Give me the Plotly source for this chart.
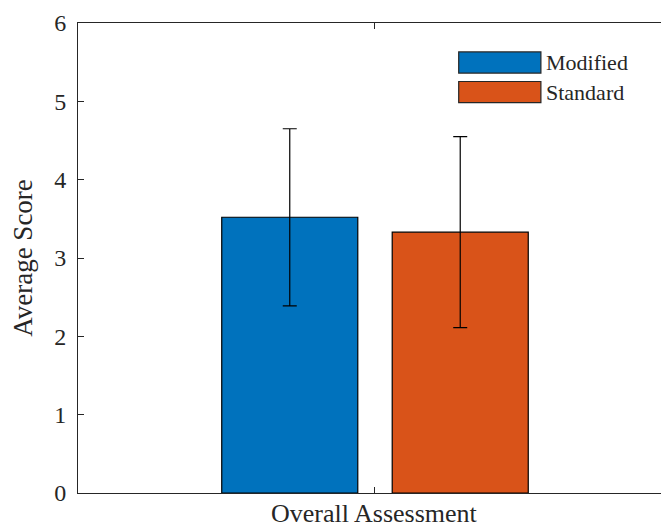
import plotly.graph_objects as go

# Data
category = "Overall Assessment"
series_names = ["Modified", "Standard"]
series_means = [3.52, 3.33]
series_sd = [1.13, 1.22]
series_colors = ["#0072BD", "#D95319"]
y_ticks = [0, 1, 2, 3, 4, 5, 6]

SERIF = "Liberation Serif, DejaVu Serif, serif"
INK = "#262626"

fig = go.Figure()
for name, mean, sd, color in zip(series_names, series_means, series_sd, series_colors):
    fig.add_trace(go.Bar(
        x=[1], y=[mean], name=name,
        marker=dict(color=color, line=dict(color="black", width=1.2)),
        error_y=dict(type="data", array=[sd], visible=True,
                     color="black", thickness=1.2, width=7),
        showlegend=False,
    ))

# Legend drawn as wide swatches with labels (top-right, no box)
legend_x0, legend_x1 = 0.653, 0.794
legend_rows = [0.916, 0.853]
sw_h = 0.045
for name, color, yc in zip(series_names, series_colors, legend_rows):
    fig.add_shape(type="rect", xref="paper", yref="paper",
                  x0=legend_x0, x1=legend_x1, y0=yc - sw_h / 2, y1=yc + sw_h / 2,
                  fillcolor=color, line=dict(color=INK, width=1.2))
    fig.add_annotation(xref="paper", yref="paper", x=legend_x1 + 0.006, y=yc,
                       text=name, showarrow=False, xanchor="left", yanchor="middle",
                       font=dict(family=SERIF, size=22, color=INK))

# Category label under the axis
fig.add_annotation(xref="x", yref="paper", x=1, y=0, yshift=-20,
                   text=category, showarrow=False, xanchor="center", yanchor="middle",
                   font=dict(family=SERIF, size=26, color=INK))

fig.update_layout(
    width=661, height=529,
    margin=dict(l=78, r=0, t=23, b=36),
    paper_bgcolor="white", plot_bgcolor="white",
    barmode="group", bargap=0.426, bargroupgap=0.202,
    font=dict(family=SERIF, color=INK),
    xaxis=dict(range=[0.5, 1.4815], tickvals=[1], ticktext=[""],
               showline=True, linecolor=INK, linewidth=1, mirror="ticks",
               ticks="inside", ticklen=6, tickcolor=INK, tickwidth=1,
               showgrid=False, zeroline=False, fixedrange=True),
    yaxis=dict(range=[0, 6], tickvals=y_ticks,
               showline=True, linecolor=INK, linewidth=1, mirror=False,
               ticks="inside", ticklen=6, tickcolor=INK, tickwidth=1,
               tickfont=dict(family=SERIF, size=24, color=INK),
               ticklabelstandoff=6,
               title=dict(text="Average Score", font=dict(family=SERIF, size=27, color=INK),
                          standoff=13),
               showgrid=False, zeroline=False, fixedrange=True),
)

fig.write_html("out.html")
